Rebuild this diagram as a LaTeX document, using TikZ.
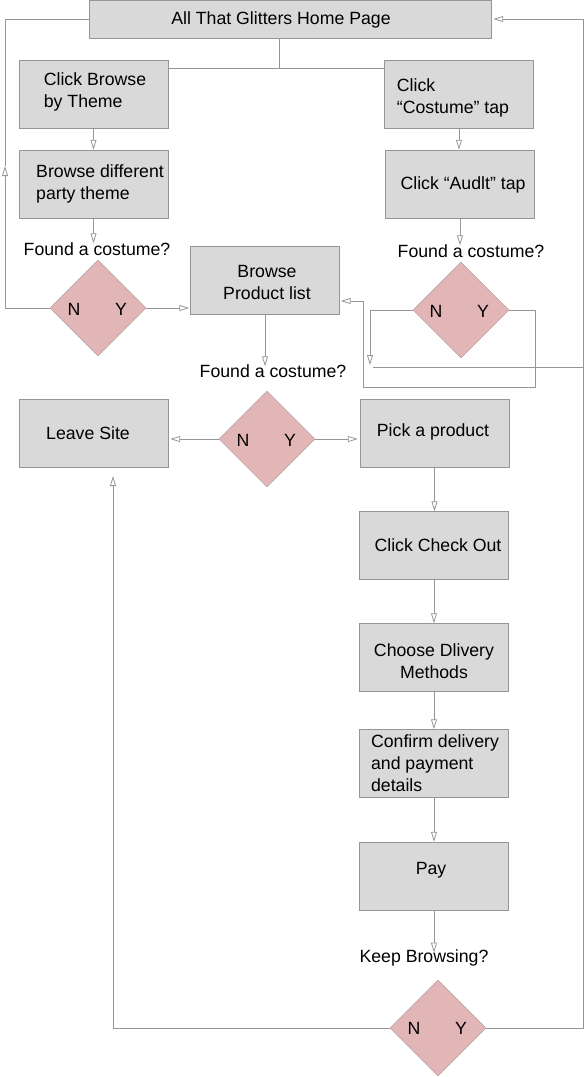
\documentclass[tikz,border=0pt]{standalone}
\usepackage{fontspec}
\setmainfont{Liberation Sans}
\usetikzlibrary{shapes.geometric,arrows.meta}
\definecolor{boxfill}{RGB}{217,217,217}
\definecolor{boxline}{RGB}{150,150,150}
\definecolor{dfill}{RGB}{226,182,182}
\definecolor{dline}{RGB}{170,150,150}
\definecolor{connc}{RGB}{150,150,150}
\begin{document}
\begin{tikzpicture}[x=1pt,y=-1pt,
 font=\fontsize{17.7}{22}\selectfont,
 box/.style={draw=boxline, fill=boxfill, minimum width=149pt, minimum height=68pt, inner sep=0pt},
 dia/.style={diamond, draw=dline, fill=dfill, minimum width=96pt, minimum height=96pt, inner sep=0pt},
 conn/.style={draw=connc, line width=0.8pt},
 arr/.style={conn, -{Triangle[open,length=10pt,width=6pt]}},
 lbl/.style={inner sep=0pt}]
\useasboundingbox (0,0) rectangle (586,1077);

% boxes
\node[box, minimum width=402pt, minimum height=38pt] (home) at (290,19) {};
\node[box] (cbt) at (93.5,94) {};
\node[box] (bdp) at (93.5,184) {};
\node[box] (cct) at (459,94) {};
\node[box] (cat) at (460,184) {};
\node[box] (bpl) at (265,280) {};
\node[box] (ls) at (93.5,433) {};
\node[box] (pap) at (434.5,433) {};
\node[box] (cco) at (434,545.5) {};
\node[box] (cdm) at (434,657.5) {};
\node[box] (cdp) at (434,763.5) {};
\node[box] (pay) at (434,876) {};

% box texts
\node[lbl] (homeT) at (281,20) {All That Glitters Home Page};
\node[lbl, align=left] (cbtT) at (95,92) {Click Browse\\by Theme};
\node[lbl, align=left] (bdpT) at (100,184) {Browse different\\party theme};
\node[lbl, align=left] (cctT) at (453,98) {Click\\“Costume” tap};
\node[lbl] (catT) at (463,185) {Click “Audlt” tap};
\node[lbl, align=center] (bplT) at (267,282) {Browse\\Product list};
\node[lbl] (lsT) at (88,433) {Leave Site};
\node[lbl] (papT) at (433,432) {Pick a product};
\node[lbl] (ccoT) at (438,545) {Click Check Out};
\node[lbl, align=center] (cdmT) at (434,661) {Choose Dlivery\\Methods};
\node[lbl, align=left] (cdpT) at (435,763) {Confirm delivery\\and payment\\details};
\node[lbl] (payT) at (431,870) {Pay};

% diamonds
\node[dia] (d1) at (98,308) {};
\node[dia] (d2) at (461,310) {};
\node[dia] (d3) at (267,439) {};
\node[dia] (d4) at (438,1028) {};
\node[lbl] (d1n) at (74,309) {N};
\node[lbl] (d1y) at (121,309) {Y};
\node[lbl] (d2n) at (436,311) {N};
\node[lbl] (d2y) at (483,311) {Y};
\node[lbl] (d3n) at (243,440) {N};
\node[lbl] (d3y) at (290,440) {Y};
\node[lbl] (d4n) at (414,1028) {N};
\node[lbl] (d4y) at (461,1028) {Y};

% question labels
\node[lbl] (f1) at (97,249) {Found a costume?};
\node[lbl] (f2) at (471,251) {Found a costume?};
\node[lbl] (f3) at (273,371) {Found a costume?};
\node[lbl] (kb) at (424,958) {Keep Browsing?};

% connectors
\coordinate (j) at (279,68);
\draw[conn] (home.south -| j) -- (j);
\draw[conn] (cbt.east |- j) -- (cct.west |- j);
\draw[arr] (cbt.south) -- (cbt.south |- bdp.north);
\draw[arr] (cct.south) -- (cct.south |- cat.north);
\draw[arr] (bdp.south) -- ([yshift=-1pt]bdp.south |- f1.north);
\draw[arr] (cat.south) -- ([yshift=-1pt]cat.south |- f2.north);

\coordinate (lx) at (5,166);
\draw[arr] (d1.west) -| (lx);
\draw[conn] (lx) |- (home.west);
\draw[arr] (d1.east) -- ([xshift=-1pt]d1.east -| bpl.west);
\draw[arr] (bpl.south) -- ([yshift=-2pt]bpl.south |- f3.north);

\coordinate (rn) at (370,365);
\draw[arr] (d2.west) -| (rn);
\coordinate (ry1) at (535,387);
\coordinate (ry2) at (363,301);
\draw[arr] (d2.east) -| (ry1) -| (ry2) -- ([xshift=1pt]ry2 -| bpl.east);

\draw[arr] (d3.west) -- ([xshift=2pt]d3.west -| ls.east);
\draw[arr] (d3.east) -- ([xshift=-2pt]d3.east -| pap.west);
\draw[arr] (pap.south) -- (pap.south |- cco.north);
\draw[arr] (cco.south) -- (cco.south |- cdm.north);
\draw[arr] (cdm.south) -- (cdm.south |- cdp.north);
\draw[arr] (cdp.south) -- (cdp.south |- pay.north);
\draw[arr] (pay.south) -- ([yshift=-3pt]pay.south |- kb.north);

\coordinate (bl) at (113,476);
\draw[arr] (d4.west) -| (bl);
\coordinate (rr) at (583,1028);
\draw[arr] (d4.east) -- (rr) |- ([xshift=2pt]home.east);
\coordinate (rm1) at (583,367);
\coordinate (rm2) at (373,367);
\draw[conn] (rm1) -- (rm2);
\end{tikzpicture}
\end{document}
